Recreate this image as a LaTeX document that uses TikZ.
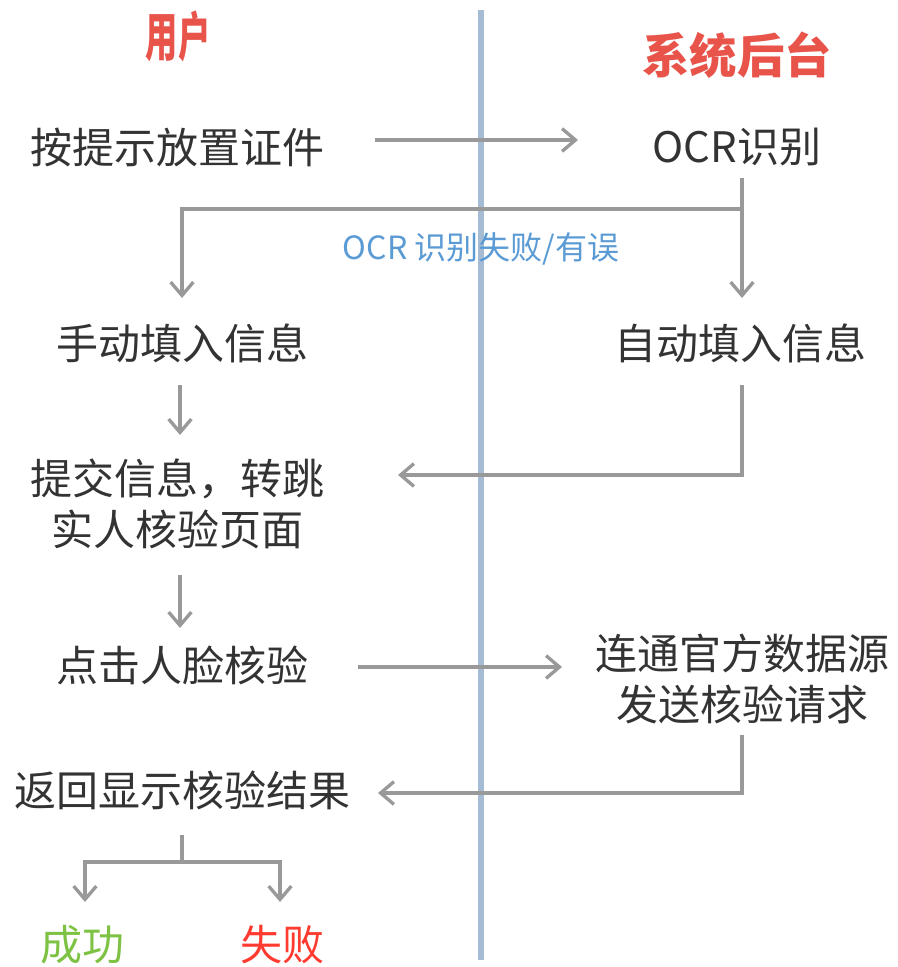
\documentclass[tikz,border=0pt]{standalone}
\usepackage{fontspec}
\setmainfont{Noto Sans CJK SC}
\usetikzlibrary{arrows.meta}
\definecolor{txt}{HTML}{333333}
\definecolor{arr}{HTML}{999999}
\definecolor{divider}{HTML}{A5BCD4}
\definecolor{ttl}{HTML}{E8534A}
\definecolor{lbl}{HTML}{5B9BD5}
\definecolor{okgreen}{HTML}{7DC242}
\definecolor{failred}{HTML}{FF3B30}
\begin{document}
\begin{tikzpicture}[x=0.75pt,y=-0.75pt,
  stepbox/.style={text=txt,font=\fontsize{31.5}{38.5}\selectfont,inner sep=0pt,align=center},
  title/.style={text=ttl,font=\fontsize{35.5}{40}\bfseries\selectfont,inner sep=0pt},
  conn/.style={draw=arr,line width=2.5pt,-{Straight Barb[length=10pt,width=17pt,line width=2.5pt]}},
  plain/.style={draw=arr,line width=2.5pt}]
\useasboundingbox (0,0) rectangle (897,967);
\fill[white] (0,0) rectangle (897,967);
% divider
\draw[divider,line width=5pt] (481,10) -- (481,960);
% titles
\node[title,xscale=0.68,yscale=1.12,transform shape] (tu) at (178,36) {用户};
\node[title] (ts) at (737,55) {系统后台};
% nodes
\node[stepbox] (n1) at (178,147) {按提示放置证件};
\node[stepbox] (ocr) at (737,147) {OCR识别};
\node[stepbox] (man) at (182,343) {手动填入信息};
\node[stepbox] (auto) at (740,343) {自动填入信息};
\node[stepbox] (sub) at (178,504) {提交信息，转跳\\实人核验页面};
\node[stepbox] (face) at (182,665) {点击人脸核验};
\node[stepbox] (src) at (742,679) {连通官方数据源\\发送核验请求};
\node[stepbox] (res) at (182,790) {返回显示核验结果};
\node[text=okgreen,font=\fontsize{31.5}{36}\selectfont,inner sep=0pt] (ok) at (82,945) {成功};
\node[text=failred,font=\fontsize{31.5}{36}\selectfont,inner sep=0pt] (fail) at (282,945) {失败};
% coordinates
\coordinate (a1s) at (375,140);
\coordinate (a1e) at (578,140);
\coordinate (ocrb) at (742,178);
\coordinate (br) at (742,209);
\coordinate (bl) at (182,209);
\coordinate (manT) at (182,298);
\coordinate (autoT) at (742,298);
\coordinate (manB) at (180,385);
\coordinate (subT) at (180,435);
\coordinate (autoB) at (742,385);
\coordinate (autoC) at (742,475);
\coordinate (subR) at (398,475);
\coordinate (subB) at (180,575);
\coordinate (faceT) at (180,628);
\coordinate (faceR) at (358,667);
\coordinate (srcL) at (562,667);
\coordinate (srcB) at (742,735);
\coordinate (srcC) at (742,793);
\coordinate (resR) at (378,793);
\coordinate (resB) at (182,835);
\coordinate (resJ) at (182,862);
\coordinate (jl) at (85,862);
\coordinate (jr) at (280,862);
\coordinate (okT) at (85,902);
\coordinate (failT) at (280,902);
% connectors
\draw[conn] (a1s) -- (a1e);
\draw[conn] (ocrb) -- (autoT);
\draw[conn] (br) -- (bl) -- (manT);
\node[text=lbl,font=\fontsize{24}{28}\selectfont,inner sep=0pt] (err) at (481,249) {OCR 识别失败/有误};
\draw[conn] (manB) -- (subT);
\draw[conn] (autoB) -- (autoC) -- (subR);
\draw[conn] (subB) -- (faceT);
\draw[conn] (faceR) -- (srcL);
\draw[conn] (srcB) -- (srcC) -- (resR);
\draw[plain] (resB) -- (resJ);
\draw[conn] (resJ) -- (jl) -- (okT);
\draw[conn] (resJ) -- (jr) -- (failT);
\end{tikzpicture}
\end{document}
